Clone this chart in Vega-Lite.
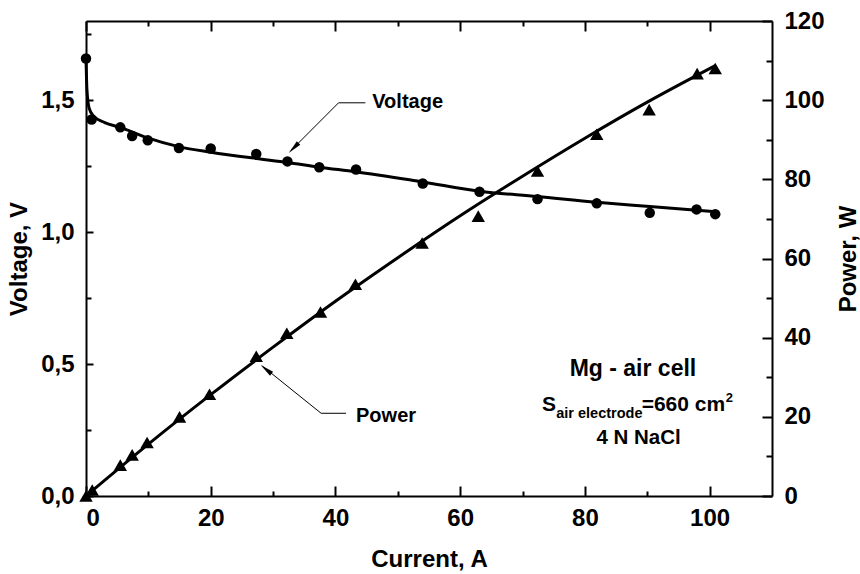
{
  "$schema": "https://vega.github.io/schema/vega-lite/v6.json",
  "width": 686,
  "height": 475,
  "autosize": {"type": "none"},
  "padding": {"left": 86, "top": 21, "right": 88, "bottom": 78},
  "background": "white",
  "config": {
    "view": {"stroke": null},
    "font": "Liberation Sans",
    "axis": {
      "grid": false,
      "domainColor": "black",
      "domainWidth": 2,
      "tickColor": "black",
      "tickWidth": 2,
      "labelFont": "Liberation Sans",
      "labelFontWeight": "bold",
      "labelFontSize": 24,
      "labelColor": "black",
      "titleFont": "Liberation Sans",
      "titleFontWeight": "bold",
      "titleFontSize": 24,
      "titleColor": "black"
    }
  },
  "datasets": {
    "vline": [
      {"I": 0, "V": 1.66}, {"I": 0.15, "V": 1.54}, {"I": 0.5, "V": 1.47}, {"I": 1.2, "V": 1.44},
      {"I": 3, "V": 1.415}, {"I": 5.5, "V": 1.397}, {"I": 10, "V": 1.356}, {"I": 15, "V": 1.323},
      {"I": 20, "V": 1.303}, {"I": 27.3, "V": 1.279}, {"I": 32.3, "V": 1.264}, {"I": 37.4, "V": 1.246},
      {"I": 43.2, "V": 1.229}, {"I": 54, "V": 1.19}, {"I": 63.1, "V": 1.155}, {"I": 72.4, "V": 1.135},
      {"I": 81.9, "V": 1.113}, {"I": 90.4, "V": 1.097}, {"I": 101, "V": 1.077}
    ],
    "vpts": [
      {"I": 0, "V": 1.658}, {"I": 0.9, "V": 1.427}, {"I": 5.5, "V": 1.397}, {"I": 7.4, "V": 1.364},
      {"I": 9.9, "V": 1.348}, {"I": 14.9, "V": 1.319}, {"I": 20, "V": 1.317}, {"I": 27.3, "V": 1.296},
      {"I": 32.3, "V": 1.268}, {"I": 37.4, "V": 1.246}, {"I": 43.3, "V": 1.237}, {"I": 54, "V": 1.184},
      {"I": 63.1, "V": 1.153}, {"I": 72.4, "V": 1.125}, {"I": 81.9, "V": 1.109}, {"I": 90.4, "V": 1.073},
      {"I": 97.9, "V": 1.086}, {"I": 100.9, "V": 1.068}
    ],
    "pline": [
      {"I": 0, "P": 0}, {"I": 10, "P": 13.1}, {"I": 20, "P": 25.6}, {"I": 30, "P": 37.6},
      {"I": 40, "P": 49.2}, {"I": 50, "P": 60.2}, {"I": 60, "P": 70.8}, {"I": 70, "P": 80.8},
      {"I": 80, "P": 90.4}, {"I": 90, "P": 99.5}, {"I": 101, "P": 108.8}
    ],
    "ppts": [
      {"I": 0, "P": 0}, {"I": 1, "P": 1.5}, {"I": 5.5, "P": 7.8}, {"I": 7.4, "P": 10.4},
      {"I": 9.8, "P": 13.5}, {"I": 15, "P": 20}, {"I": 19.8, "P": 25.7}, {"I": 27.3, "P": 35.3},
      {"I": 32.2, "P": 41.1}, {"I": 37.6, "P": 46.5}, {"I": 43.2, "P": 53.5}, {"I": 53.9, "P": 63.9},
      {"I": 62.9, "P": 70.7}, {"I": 72.4, "P": 82.1}, {"I": 81.9, "P": 91.4}, {"I": 90.3, "P": 97.6},
      {"I": 98, "P": 106.7}, {"I": 100.9, "P": 108}
    ],
    "vlead": [
      {"a": 40.5, "b": 1.49, "a2": 44.8, "b2": 1.49},
      {"a": 40.5, "b": 1.49, "a2": 32.9, "b2": 1.31}
    ],
    "plead": [
      {"a": 37.7, "b": 20.9, "a2": 41.7, "b2": 20.9},
      {"a": 37.7, "b": 20.9, "a2": 28.3, "b2": 32.8}
    ],
    "vtip": [{"a": 32.5, "b": 1.30}],
    "ptip": [{"a": 28.0, "b": 33.1}],
    "vlabel": [{"a": 45.9, "b": 1.469, "t": "Voltage"}],
    "plabel": [{"a": 43.3, "b": 18.8, "t": "Power"}],
    "boxtitle": [{"a": 87.7, "b": 30.3, "t": "Mg - air cell"}],
    "boxmain": [{"a": 73.1, "b": 21.5, "t": "S"}, {"a": 89.1, "b": 21.5, "t": "=660 cm"}],
    "boxsub": [{"a": 75.4, "b": 19.6, "t": "air electrode"}],
    "boxsup": [{"a": 102.6, "b": 23.8, "t": "2"}],
    "boxline3": [{"a": 88.6, "b": 13.1, "t": "4 N NaCl"}]
  },
  "resolve": {
    "scale": {"x": "independent", "y": "independent"},
    "axis": {"x": "independent", "y": "independent"}
  },
  "layer": [
    {
      "data": {"name": "vline"},
      "mark": {"type": "line", "color": "black", "strokeWidth": 3, "interpolate": "monotone"},
      "encoding": {
        "x": {"field": "I", "type": "quantitative", "scale": {"domain": [0, 110], "nice": false},
          "axis": {"orient": "bottom", "values": [0, 10, 20, 30, 40, 50, 60, 70, 80, 90, 100],
            "labelExpr": "datum.value % 20 === 0 ? datum.label : ''",
            "tickSize": {"condition": {"test": "datum.value % 20 === 0", "value": -10}, "value": -5},
            "labelPadding": 20,
            "title": "Current,  A", "titleX": 343, "titleY": 70, "titleBaseline": "alphabetic", "titleAlign": "center"}},
        "y": {"field": "V", "type": "quantitative", "scale": {"domain": [0, 1.8], "nice": false},
          "axis": {"orient": "left", "values": [0, 0.25, 0.5, 0.75, 1, 1.25, 1.5, 1.75],
            "tickSize": {"condition": {"test": "datum.value % 0.5 === 0", "value": -7}, "value": -5},
            "labelPadding": 19,
            "labelExpr": "datum.value % 0.5 === 0 ? replace(format(datum.value, '.1f'), '.', ',') : ''",
            "title": "Voltage, V", "titleX": -60, "titleY": 237.5, "titleAngle": 270, "titleBaseline": "alphabetic", "titleAlign": "center"}}
      }
    },
    {
      "data": {"name": "vpts"},
      "mark": {"type": "point", "shape": "circle", "filled": true, "size": 110, "color": "black", "opacity": 1},
      "encoding": {
        "x": {"field": "I", "type": "quantitative", "scale": {"domain": [0, 110], "nice": false}, "axis": null},
        "y": {"field": "V", "type": "quantitative", "scale": {"domain": [0, 1.8], "nice": false}, "axis": null}
      }
    },
    {
      "data": {"name": "pline"},
      "mark": {"type": "line", "color": "black", "strokeWidth": 3, "interpolate": "monotone"},
      "encoding": {
        "x": {"field": "I", "type": "quantitative", "scale": {"domain": [0, 110], "nice": false},
          "axis": {"orient": "top", "values": [0, 10, 20, 30, 40, 50, 60, 70, 80, 90, 100],
            "tickSize": {"condition": {"test": "datum.value % 20 === 0", "value": -10}, "value": -5},
            "labels": false, "title": null}},
        "y": {"field": "P", "type": "quantitative", "scale": {"domain": [0, 120], "nice": false},
          "axis": {"orient": "right", "values": [0, 10, 20, 30, 40, 50, 60, 70, 80, 90, 100, 110, 120],
            "labelExpr": "datum.value % 20 === 0 ? datum.label : ''",
            "tickSize": {"condition": {"test": "datum.value % 20 === 0", "value": -10}, "value": -6},
            "labelPadding": 22,
            "title": "Power,  W", "titleX": 83, "titleY": 237.5, "titleAngle": 270, "titleBaseline": "alphabetic", "titleAlign": "center"}}
      }
    },
    {
      "data": {"name": "ppts"},
      "mark": {"type": "point", "shape": "triangle-up", "filled": true, "size": 180, "color": "black", "opacity": 1},
      "encoding": {
        "x": {"field": "I", "type": "quantitative", "scale": {"domain": [0, 110], "nice": false}, "axis": null},
        "y": {"field": "P", "type": "quantitative", "scale": {"domain": [0, 120], "nice": false}, "axis": null}
      }
    },
    {
      "data": {"name": "vlead"},
      "mark": {"type": "rule", "color": "black", "strokeWidth": 1},
      "encoding": {
        "x": {"field": "a", "type": "quantitative", "scale": {"domain": [0, 110], "nice": false}, "axis": null},
        "y": {"field": "b", "type": "quantitative", "scale": {"domain": [0, 1.8], "nice": false}, "axis": null},
        "x2": {"field": "a2"},
        "y2": {"field": "b2"}
      }
    },
    {
      "data": {"name": "plead"},
      "mark": {"type": "rule", "color": "black", "strokeWidth": 1},
      "encoding": {
        "x": {"field": "a", "type": "quantitative", "scale": {"domain": [0, 110], "nice": false}, "axis": null},
        "y": {"field": "b", "type": "quantitative", "scale": {"domain": [0, 120], "nice": false}, "axis": null},
        "x2": {"field": "a2"},
        "y2": {"field": "b2"}
      }
    },
    {
      "data": {"name": "vtip"},
      "mark": {"type": "point", "shape": "M0,0L0.35,2L-0.35,2Z", "filled": true, "size": 196, "color": "black", "opacity": 1, "angle": 225},
      "encoding": {
        "x": {"field": "a", "type": "quantitative", "scale": {"domain": [0, 110], "nice": false}, "axis": null},
        "y": {"field": "b", "type": "quantitative", "scale": {"domain": [0, 1.8], "nice": false}, "axis": null}
      }
    },
    {
      "data": {"name": "ptip"},
      "mark": {"type": "point", "shape": "M0,0L0.35,2L-0.35,2Z", "filled": true, "size": 196, "color": "black", "opacity": 1, "angle": 308.6},
      "encoding": {
        "x": {"field": "a", "type": "quantitative", "scale": {"domain": [0, 110], "nice": false}, "axis": null},
        "y": {"field": "b", "type": "quantitative", "scale": {"domain": [0, 120], "nice": false}, "axis": null}
      }
    },
    {
      "data": {"name": "vlabel"},
      "mark": {"type": "text", "font": "Liberation Sans", "fontWeight": "bold", "fontSize": 20, "align": "left", "baseline": "alphabetic", "color": "black"},
      "encoding": {
        "x": {"field": "a", "type": "quantitative", "scale": {"domain": [0, 110], "nice": false}, "axis": null},
        "y": {"field": "b", "type": "quantitative", "scale": {"domain": [0, 1.8], "nice": false}, "axis": null},
        "text": {"field": "t"}
      }
    },
    {
      "data": {"name": "plabel"},
      "mark": {"type": "text", "font": "Liberation Sans", "fontWeight": "bold", "fontSize": 20, "align": "left", "baseline": "alphabetic", "color": "black"},
      "encoding": {
        "x": {"field": "a", "type": "quantitative", "scale": {"domain": [0, 110], "nice": false}, "axis": null},
        "y": {"field": "b", "type": "quantitative", "scale": {"domain": [0, 120], "nice": false}, "axis": null},
        "text": {"field": "t"}
      }
    },
    {
      "data": {"name": "boxtitle"},
      "mark": {"type": "text", "font": "Liberation Sans", "fontWeight": "bold", "fontSize": 23, "align": "center", "baseline": "alphabetic", "color": "black"},
      "encoding": {
        "x": {"field": "a", "type": "quantitative", "scale": {"domain": [0, 110], "nice": false}, "axis": null},
        "y": {"field": "b", "type": "quantitative", "scale": {"domain": [0, 120], "nice": false}, "axis": null},
        "text": {"field": "t"}
      }
    },
    {
      "data": {"name": "boxmain"},
      "mark": {"type": "text", "font": "Liberation Sans", "fontWeight": "bold", "fontSize": 21, "align": "left", "baseline": "alphabetic", "color": "black"},
      "encoding": {
        "x": {"field": "a", "type": "quantitative", "scale": {"domain": [0, 110], "nice": false}, "axis": null},
        "y": {"field": "b", "type": "quantitative", "scale": {"domain": [0, 120], "nice": false}, "axis": null},
        "text": {"field": "t"}
      }
    },
    {
      "data": {"name": "boxsub"},
      "mark": {"type": "text", "font": "Liberation Sans", "fontWeight": "bold", "fontSize": 14.5, "align": "left", "baseline": "alphabetic", "color": "black"},
      "encoding": {
        "x": {"field": "a", "type": "quantitative", "scale": {"domain": [0, 110], "nice": false}, "axis": null},
        "y": {"field": "b", "type": "quantitative", "scale": {"domain": [0, 120], "nice": false}, "axis": null},
        "text": {"field": "t"}
      }
    },
    {
      "data": {"name": "boxsup"},
      "mark": {"type": "text", "font": "Liberation Sans", "fontWeight": "bold", "fontSize": 13, "align": "left", "baseline": "alphabetic", "color": "black"},
      "encoding": {
        "x": {"field": "a", "type": "quantitative", "scale": {"domain": [0, 110], "nice": false}, "axis": null},
        "y": {"field": "b", "type": "quantitative", "scale": {"domain": [0, 120], "nice": false}, "axis": null},
        "text": {"field": "t"}
      }
    },
    {
      "data": {"name": "boxline3"},
      "mark": {"type": "text", "font": "Liberation Sans", "fontWeight": "bold", "fontSize": 20.5, "align": "center", "baseline": "alphabetic", "color": "black"},
      "encoding": {
        "x": {"field": "a", "type": "quantitative", "scale": {"domain": [0, 110], "nice": false}, "axis": null},
        "y": {"field": "b", "type": "quantitative", "scale": {"domain": [0, 120], "nice": false}, "axis": null},
        "text": {"field": "t"}
      }
    }
  ]
}
